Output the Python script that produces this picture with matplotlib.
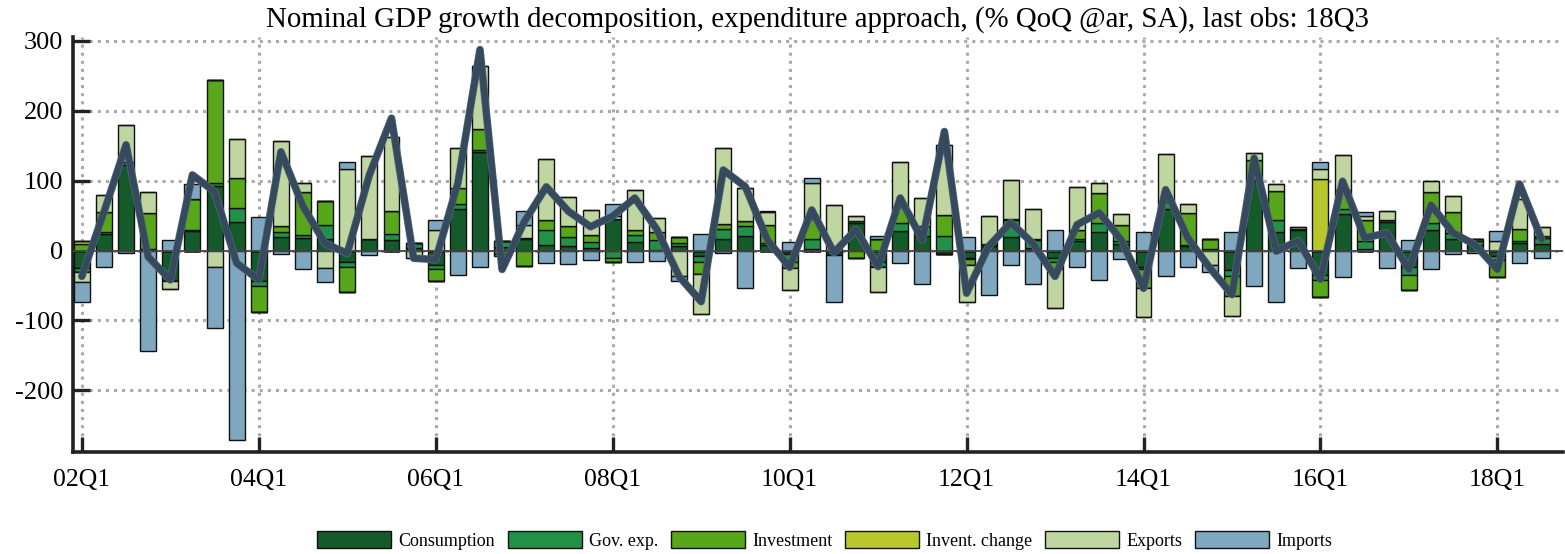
import numpy as np
import matplotlib
matplotlib.use('Agg')
import matplotlib.pyplot as plt
import matplotlib.patheffects as pe

plt.rcParams['font.family'] = ['Liberation Serif', 'DejaVu Serif']
plt.rcParams['axes.unicode_minus'] = False

# quarters 02Q1 .. 18Q3
quarters = ['%02dQ%d' % (y, q) for y in range(2, 19) for q in range(1, 5)][:67]

consumption = [-25, 24, 122, 2, -44, 28, 92, 41, -43, 20, 18, 16, -17, 16, 15, 3,
               -20, 60, 141, 5, 16, 8, 6, 3, 45, 12, 1, 6, -8, 17, 21, 8,
               -5, 2, -7, 40, -16, 28, 21, -5, -10, 6, 19, 3, -10, 14, 27, 10,
               -23, 59, 6, 2, -28, 99, 27, 29, -35, 52, 2, 41, -24, 30, 16, 8,
               -8, 11, 10]
gov_exp = [-5, 2, 5, 0, 0, 2, 4, 20, -8, 6, 4, 20, -7, 0, 9, 8,
           -6, 6, 3, 8, 2, 21, 13, 9, -10, 10, 14, 5, -8, 14, 14, 3,
           -11, 15, 0, 2, -8, 11, 14, 21, -2, 4, 24, 12, -7, 3, 13, 3,
           -4, 10, 2, 0, -8, 3, 16, 2, -7, 8, 12, 3, -11, 10, 9, 5,
           -6, 3, 8]
investment = [10, 29, 0, 51, 0, 44, 147, 42, -37, 9, 61, 35, -35, 0, 33, 0,
              -18, 24, 29, -5, -22, 15, 16, 10, -7, 8, 12, 9, -18, 7, 7, 25,
              -9, 28, 0, -11, 16, 23, 0, 30, -8, 0, 2, 2, -10, 12, 42, 24,
              -26, 2, 46, 14, -29, 28, 42, 0, -24, 26, 30, 0, -22, 43, 30, 3,
              -24, 17, 3]
invent_change = [3, 0, 0, 0, 0, 0, 0, 0, 0, 0, 0, 0, 0, 0, 0, 0,
                 0, 0, 0, 0, 0, 0, 0, 0, 0, 0, 0, 0, 0, 0, 0, 0,
                 0, 0, 0, 0, 0, 0, 0, 0, 0, 0, 0, 0, 0, 0, 0, 0,
                 0, 0, 0, 0, 0, 0, 0, 0, 102, 0, 0, 0, 0, 0, 0, 0,
                 0, 0, 0]
exports = [-15, 25, 53, 30, -11, 0, -23, 57, 0, 122, 13, -25, 116, 119, 105, -11,
           30, 57, 90, 0, 18, 87, 42, 36, 5, 56, 20, -37, -57, 108, 48, 19,
           -31, 51, 65, 7, -35, 65, 40, 100, -53, 40, 56, 43, -55, 62, 15, 15,
           -42, 67, 12, -20, -28, 9, 10, 3, 14, 51, 5, 12, 0, 16, 23, 0,
           13, 43, 13]
imports = [-28, -23, -3, -144, 15, 21, -88, -271, 48, -5, -26, -20, 11, -7, 0, 0,
           13, -35, -24, -3, 20, -18, -19, -14, 16, -17, -15, -7, 24, -4, -54, 2,
           12, 7, -66, 0, 5, -18, -48, 0, 20, -63, -20, -48, 29, -23, -42, -12,
           26, -36, -24, -10, 26, -50, -73, -25, 11, -38, 6, -25, 15, -27, -5, -4,
           15, -18, -10]
gdp_growth = [-37, 55, 151, -9, -42, 108, 84, -18, -42, 141, 63, 10, -4, 108, 189, -11,
              -13, 96, 287, -27, 41, 91, 56, 34, 49, 75, 30, -37, -73, 115, 91, 15,
              -24, 58, -3, 30, -23, 75, 15, 170, -61, 6, 40, 10, -37, 37, 54, 15,
              -54, 87, 18, -25, -63, 132, -1, 14, -41, 99, 18, 25, -27, 65, 25, 8,
              -27, 95, 16]

labels = ['Consumption', 'Gov. exp.', 'Investment', 'Invent. change', 'Exports', 'Imports']
colors = ['#145a2b', '#229046', '#58a619', '#b8c72c', '#bfd6a0', '#7fa8c0']
series = [consumption, gov_exp, investment, invent_change, exports, imports]

fig = plt.figure(figsize=(15.65, 5.54), dpi=100)
ax = fig.add_axes([0.0465, 0.184, 0.952, 0.750])

x = np.arange(len(quarters))
pos_base = np.zeros(len(x))
neg_base = np.zeros(len(x))
for vals, col, lab in zip(series, colors, labels):
    v = np.array(vals, dtype=float)
    pos = np.where(v > 0, v, 0)
    neg = np.where(v < 0, v, 0)
    ax.bar(x, pos, 0.72, bottom=pos_base, color=col, edgecolor='#111111',
           linewidth=1.0, label=lab, zorder=3)
    ax.bar(x, neg, 0.72, bottom=neg_base, color=col, edgecolor='#111111',
           linewidth=1.0, zorder=3)
    pos_base += pos
    neg_base += neg

ax.axhline(0, color='#444444', lw=1.3, zorder=4)
ax.plot(x, gdp_growth, color='#37495c', lw=4.5, zorder=5,
        solid_joinstyle='round', solid_capstyle='round',
        path_effects=[pe.Stroke(linewidth=5.5, foreground='#4f6c82'), pe.Normal()])

ax.set_xlim(-0.41, 66.95)
ax.set_ylim(-288, 305.7)
ax.set_yticks([-200, -100, 0, 100, 200, 300])
ax.set_xticks(x[::8])
ax.set_xticklabels(quarters[::8])
ax.grid(True, color='#aaaaaa', linestyle=':', lw=2.2, zorder=0)
for s in ['top', 'right']:
    ax.spines[s].set_visible(False)
for s in ['left', 'bottom']:
    ax.spines[s].set_linewidth(2.6)
    ax.spines[s].set_color('#222222')
ax.tick_params(axis='y', direction='in', length=12, width=2.4, color='#222222',
               labelsize=19, pad=7)
ax.tick_params(axis='x', direction='in', length=11, width=2.4, color='#222222',
               labelsize=18.5, pad=12)

ax.set_title('Nominal GDP growth decomposition, expenditure approach, (% QoQ @ar, SA), last obs: 18Q3',
             fontsize=20.8, pad=7)

handles, labs = ax.get_legend_handles_labels()
fig.legend(handles, labs, loc='lower center', ncol=6, bbox_to_anchor=(0.527, -0.022),
           frameon=False, fontsize=13, handlelength=4.1, handleheight=1.1,
           handletextpad=0.4, columnspacing=0.7)

fig.savefig('out.png', dpi=100)
